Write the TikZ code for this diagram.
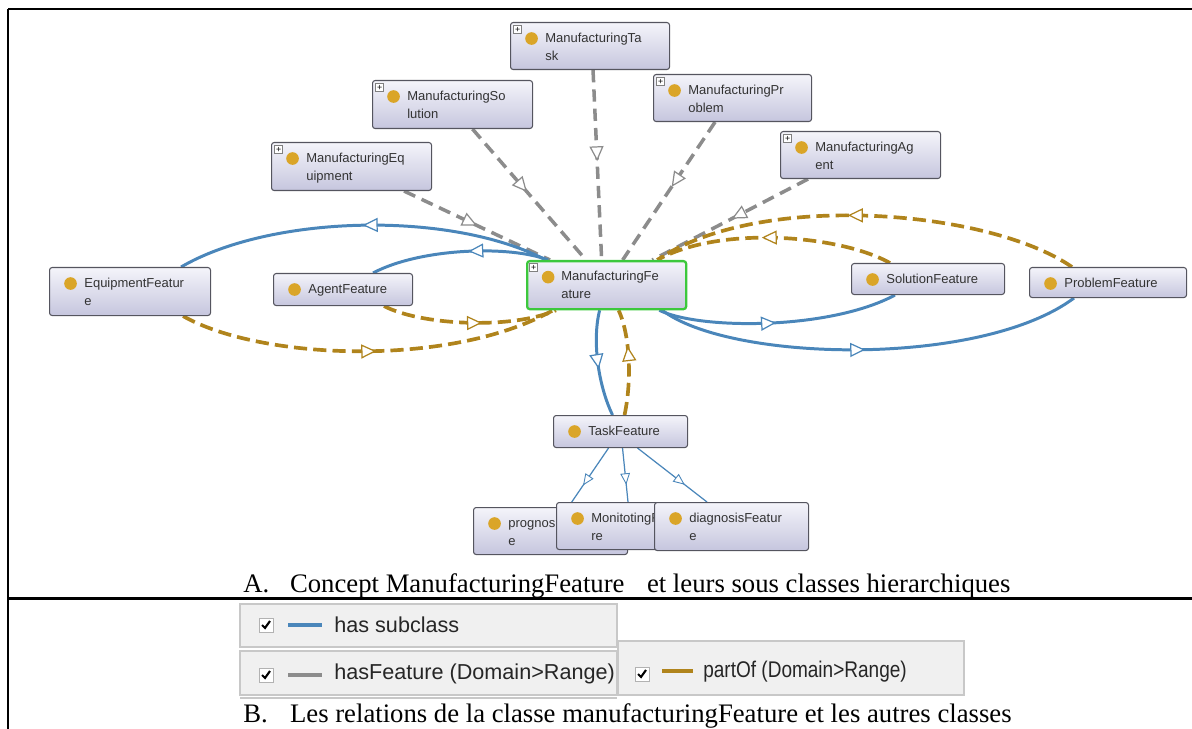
\documentclass[tikz,border=0pt]{standalone}
\usepackage{fontspec}
\setmainfont{Liberation Serif}
\newfontfamily\uisans{Liberation Sans}
\usepackage{xcolor}
\usepackage{tikz}
\usetikzlibrary{arrows.meta, decorations.markings, backgrounds}

\definecolor{subblue}{RGB}{74,134,186}
\definecolor{featgray}{RGB}{140,140,140}
\definecolor{partbrown}{RGB}{176,132,28}
\definecolor{dotgold}{RGB}{218,165,40}
\definecolor{boxtop}{RGB}{244,244,250}
\definecolor{boxbot}{RGB}{198,198,222}
\definecolor{boxline}{RGB}{85,85,95}
\definecolor{selgreen}{RGB}{60,200,60}
\definecolor{panelfill}{RGB}{240,240,240}
\definecolor{panelgray}{RGB}{200,200,200}

\newcommand{\upx}{0.02cm}

\tikzset{
	cls/.style={draw=boxline, line width=0.6pt, rounded corners=1.5pt, top color=boxtop, bottom color=boxbot,
		anchor=north west, inner sep=0pt,
		path picture={\fill[dotgold] ([shift={(21,16)}]path picture bounding box.north west) circle (3.6pt);},
		label={[clstext]north west:#1}},
	clstext/.style={anchor=north west, align=left, inner sep=0pt, text=black!80,
		font=\uisans\fontsize{7.4}{10.2}\selectfont, xshift=35*\upx, yshift=-6.2pt},
	expandable/.style={label={[plusicon]north west:+}},
	plusicon/.style={anchor=north west, draw=gray, fill=white, inner sep=0pt, minimum size=4.8pt,
		font=\uisans\fontsize{5}{5}\selectfont, xshift=3*\upx, yshift=-3*\upx},
	midtip/.style={postaction={decorate}, decoration={markings, mark=at position #1 with
		{\arrow[solid]{Triangle[fill=white, length=8.5pt, width=8pt, line width=0.7pt]}}}},
	midtip/.default=0.5,
	smalltip/.style={postaction={decorate}, decoration={markings, mark=at position #1 with
		{\arrow[solid]{Triangle[fill=white, length=6.5pt, width=5.5pt, line width=0.5pt]}}}},
	smalltip/.default=0.68,
	hassub/.style={draw=subblue, line width=1.7pt},
	thinsub/.style={draw=subblue, line width=0.7pt},
	hasfeat/.style={draw=featgray, line width=2pt, dash pattern=on 7pt off 4pt},
	partof/.style={draw=partbrown, line width=2.1pt, dash pattern=on 7.5pt off 3.5pt},
	panel/.style={fill=panelfill, draw=panelgray, line width=0.6pt},
	chkbox/.style={draw=gray!60, fill=white, inner sep=0pt, minimum size=14*\upx,
		path picture={\draw[black, line width=1.2pt] ([shift={(-4,0)}]path picture bounding box.center)
			-- ([shift={(-1,3)}]path picture bounding box.center) -- ([shift={(4,-4)}]path picture bounding box.center);}},
	legtext/.style={anchor=west, inner sep=0pt, text=black!85, font=\uisans\fontsize{12.3}{14}\selectfont},
	captext/.style={anchor=base west, inner sep=0pt, font=\fontsize{15.2}{17}\selectfont},
}

\begin{document}
\begin{tikzpicture}[x=0.02cm, y=-0.02cm]
				\useasboundingbox (0,0) rectangle (1192,729);
				% Table rules:
				\draw[line width=1.2pt] (8,9) -- (8,729);
				\draw[line width=0.8pt] (8,9) -- (1192,9);
				\draw[line width=1.3pt] (8,598.5) -- (1192,598.5);
				% Classes:
				\node[cls={ManufacturingTa\\sk}, expandable, minimum width=159*\upx, minimum height=47*\upx] (mtask) at (510,22) {};
				\node[cls={ManufacturingSo\\lution}, expandable, minimum width=160*\upx, minimum height=48*\upx] (msol) at (372,80) {};
				\node[cls={ManufacturingPr\\oblem}, expandable, minimum width=158*\upx, minimum height=47*\upx] (mprob) at (653,74) {};
				\node[cls={ManufacturingEq\\uipment}, expandable, minimum width=160*\upx, minimum height=48*\upx] (meq) at (271,142) {};
				\node[cls={ManufacturingAg\\ent}, expandable, minimum width=160*\upx, minimum height=47*\upx] (magent) at (780,131) {};
				\node[cls={EquipmentFeatur\\e}, minimum width=161*\upx, minimum height=48*\upx] (eqfeat) at (49,267) {};
				\node[cls={AgentFeature}, minimum width=139*\upx, minimum height=32*\upx] (agfeat) at (273,273) {};
				\node[cls={ManufacturingFe\\ature}, expandable, draw=selgreen, line width=1.3pt, minimum width=159*\upx, minimum height=48*\upx] (mfeat) at (526,260) {};
				\node[cls={SolutionFeature}, minimum width=153*\upx, minimum height=31*\upx] (solfeat) at (851,263) {};
				\node[cls={ProblemFeature}, minimum width=157*\upx, minimum height=30*\upx] (probfeat) at (1029,267) {};
				\node[cls={TaskFeature}, minimum width=134*\upx, minimum height=32*\upx] (taskfeat) at (553,415) {};
				\node[cls={prognosisFeatur\\e}, minimum width=154*\upx, minimum height=47*\upx] (progfeat) at (473,507) {};
				\node[cls={MonitotingFeatu\\re}, minimum width=154*\upx, minimum height=47*\upx] (monifeat) at (556,502) {};
				\node[cls={diagnosisFeatur\\e}, minimum width=154*\upx, minimum height=48*\upx] (diagfeat) at (654,502) {};
				% Relations:
				\begin{pgfonlayer}{background}
				\draw[hasfeat, midtip=0.5] ([shift={(-28,0)}]meq.south east) -- ([shift={(24,0)}]mfeat.north west);
				\draw[hasfeat, midtip=0.48] ([shift={(20,0)}]msol.south) -- ([shift={(60,0)}]mfeat.north west);
				\draw[hasfeat, midtip=0.48] ([shift={(3,0)}]mtask.south) -- ([shift={(-5,0)}]mfeat.north);
				\draw[hasfeat, midtip=0.47] ([shift={(-97,0)}]mprob.south east) -- ([shift={(16,0)}]mfeat.north);
				\draw[hasfeat, midtip=0.49] ([shift={(28,0)}]magent.south west) -- ([shift={(-35,0)}]mfeat.north east);
				\draw[hassub, midtip=0.5] ([shift={(20,0)}]mfeat.north west) .. controls (450,210) and (270,215) .. ([shift={(-30,0)}]eqfeat.north east);
				\draw[hassub, midtip=0.45] ([shift={(22,0)}]mfeat.north west) .. controls (510,245) and (420,248) .. ([shift={(30,0)}]agfeat.north);
				\draw[hassub, midtip=0.49] ([shift={(-28,0)}]mfeat.south east) .. controls (700,330) and (830,330) .. ([shift={(44,0)}]solfeat.south west);
				\draw[hassub, midtip=0.49] ([shift={(-25,0)}]mfeat.south east) .. controls (730,362) and (980,368) .. ([shift={(45,0)}]probfeat.south west);
				\draw[hassub, midtip=0.55] ([shift={(-7,0)}]mfeat.south) .. controls (592,340) and (598,385) .. ([shift={(-8,0)}]taskfeat.north);
				\draw[partof, midtip=0.52] ([shift={(-28,0)}]eqfeat.south east) .. controls (260,360) and (450,368) .. ([shift={(27,0)}]mfeat.south west);
				\draw[partof, midtip=0.57] ([shift={(-29,0)}]agfeat.south east) .. controls (420,325) and (510,330) .. ([shift={(30,0)}]mfeat.south west);
				\draw[partof, midtip=0.55] ([shift={(39,0)}]solfeat.north west) .. controls (840,235) and (720,225) .. ([shift={(-30,0)}]mfeat.north east);
				\draw[partof, midtip=0.54] ([shift={(43,0)}]probfeat.north west) .. controls (990,210) and (760,190) .. ([shift={(-30,0)}]mfeat.north east);
				\draw[partof, midtip=0.65] ([shift={(4,0)}]taskfeat.north) .. controls (632,380) and (630,335) .. ([shift={(12,0)}]mfeat.south);
				\draw[thinsub, smalltip] ([shift={(-12,0)}]taskfeat.south) -- ([shift={(-57,-4)}]progfeat.north east);
				\draw[thinsub, smalltip] ([shift={(2,0)}]taskfeat.south) -- ([shift={(72,0)}]monifeat.north west);
				\draw[thinsub, smalltip] ([shift={(17,0)}]taskfeat.south) -- ([shift={(53,0)}]diagfeat.north west);
				\end{pgfonlayer}
				% Captions:
				\node[captext] (capa) at (243,592) {\makebox[26.6pt][l]{A.}Concept ManufacturingFeature\hspace{9pt} et leurs sous classes hierarchiques};
				\node[captext] (capb) at (243,722) {\makebox[26.6pt][l]{B.}Les relations de la classe manufacturingFeature et les autres classes};
				% Legend:
				\draw[panel] (240,604) rectangle (617,647);
				\draw[panel] (240,651) rectangle (617,695);
				\draw[panelgray, line width=0.8pt] (240,698) -- (617,698);
				\draw[panel] (618,641) rectangle (964,695);
				\node[chkbox] (chka) at (266,625) {};
				\node[chkbox] (chkb) at (266,675) {};
				\node[chkbox] (chkc) at (642,674) {};
				\draw[subblue, line width=2.3pt] ([shift={(15,0)}]chka.east) -- +(34,0);
				\draw[featgray, line width=2.3pt] ([shift={(15,0)}]chkb.east) -- +(34,0);
				\draw[partbrown, line width=2.6pt] ([shift={(13,-3)}]chkc.east) -- +(31,0);
				\node[legtext] (lega) at (334,625) {has subclass};
				\node[legtext] (legb) at (334,674) {hasFeature (Domain>Range)};
				\node[legtext, xscale=0.88, yscale=1.05] (legc) at (703,672) {partOf (Domain>Range)};
			\end{tikzpicture}
\end{document}
